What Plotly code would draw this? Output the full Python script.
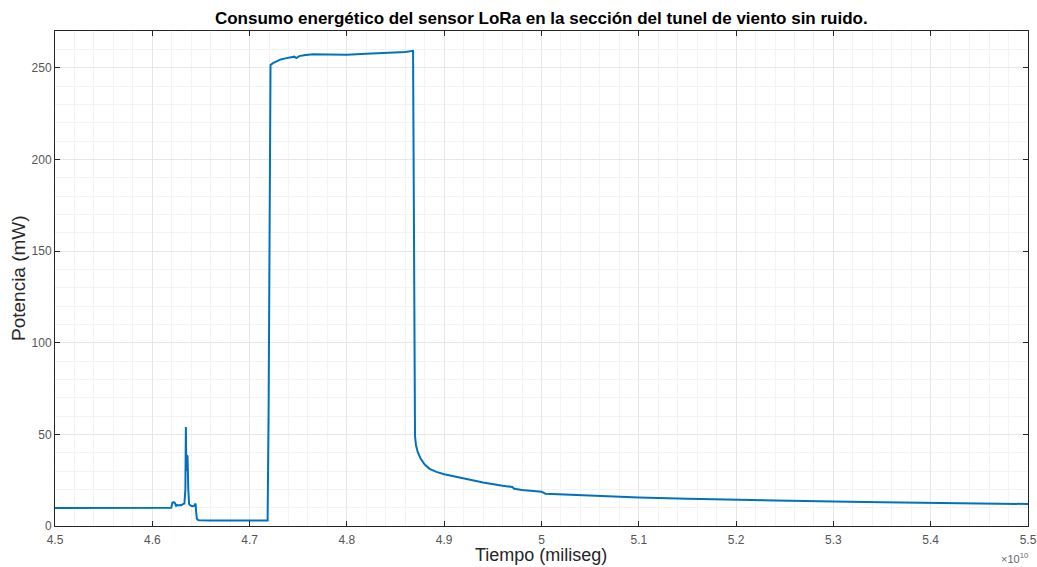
import plotly.graph_objects as go

# Time in units of 1e10 miliseg
t_e10 = [4.500, 4.550, 4.600, 4.6195, 4.6205, 4.6215, 4.6230, 4.6245, 4.6255, 4.6270, 4.6285, 4.6300,
         4.6315, 4.6330, 4.6340, 4.6345, 4.6350, 4.6355, 4.6362, 4.6370, 4.6378, 4.6390,
         4.6410, 4.6430, 4.6440, 4.6445, 4.6450, 4.6458, 4.6468, 4.6480, 4.6600, 4.6800,
         4.7000, 4.7150, 4.7185, 4.7195, 4.7205, 4.7215, 4.7240, 4.7280, 4.7320, 4.7380,
         4.7420, 4.7460, 4.7480, 4.7510, 4.7560, 4.7650, 4.7800, 4.8000, 4.8200, 4.8400,
         4.8600, 4.8680, 4.8690, 4.8700, 4.8710, 4.8730, 4.8760, 4.8800, 4.8850, 4.8920,
         4.9000, 4.9200, 4.9400, 4.9600, 4.9700, 4.9720, 4.9800, 5.0000, 5.0040, 5.0300,
         5.0600, 5.1000, 5.1500, 5.2000, 5.2500, 5.3000, 5.3500, 5.4000, 5.4500, 5.5000]
potencia_mw = [9.8, 9.8, 9.8, 9.9, 12.5, 13.0, 12.8, 11.0, 11.5, 11.2, 11.4, 11.3,
               12.0, 12.3, 20.0, 54.0, 30.0, 38.5, 38.0, 20.0, 12.0, 11.2,
               10.8, 11.0, 12.0, 12.3, 8.0, 4.0, 3.3, 3.1, 3.0, 2.9,
               2.9, 2.9, 3.0, 60.0, 200.0, 251.5, 252.5, 253.5, 254.5, 255.2,
               255.8, 256.0, 255.2, 256.3, 256.8, 257.3, 257.2, 257.0, 257.6, 258.0,
               258.6, 259.2, 150.0, 49.0, 44.0, 40.0, 36.5, 33.5, 31.2, 29.5,
               28.2, 25.8, 23.7, 22.0, 21.3, 20.3, 19.6, 18.7, 17.6, 17.0,
               16.3, 15.5, 14.8, 14.2, 13.7, 13.3, 12.9, 12.6, 12.3, 12.0]

x_ticks = [4.5, 4.6, 4.7, 4.8, 4.9, 5.0, 5.1, 5.2, 5.3, 5.4, 5.5]
x_tick_labels = ["4.5", "4.6", "4.7", "4.8", "4.9", "5", "5.1", "5.2", "5.3", "5.4", "5.5"]
y_ticks = [0, 50, 100, 150, 200, 250]

title_text = "Consumo energético del sensor LoRa en la sección del tunel de viento sin ruido."
x_title = "Tiempo (miliseg)"
y_title = "Potencia (mW)"

FONT = "Liberation Sans, Arial, sans-serif"

fig = go.Figure()
fig.add_trace(go.Scatter(x=t_e10, y=potencia_mw, mode="lines",
                         line=dict(color="#0072BD", width=2), showlegend=False))

axis_common = dict(
    showline=True, linecolor="#262626", linewidth=1, mirror="ticks",
    ticks="inside", ticklen=5, tickcolor="#262626", tickwidth=1,
    showgrid=True, gridcolor="#e6e6e6", gridwidth=1, zeroline=False,
    automargin=False,
    tickfont=dict(family=FONT, size=12, color="#555555"),
)

fig.update_layout(
    width=1037, height=567,
    margin=dict(l=55, r=9, t=31, b=41),
    paper_bgcolor="white", plot_bgcolor="white",
    title=dict(text="<b>" + title_text + "</b>", x=0.522, xanchor="center", y=0.968, yanchor="middle",
               font=dict(family=FONT, size=17, color="black")),
    xaxis=dict(range=[4.5, 5.5], tickvals=x_ticks, ticktext=x_tick_labels,
               ticklabelstandoff=3,
               minor=dict(dtick=0.02, showgrid=True, gridcolor="#f3f3f3", ticks=""),
               **axis_common),
    yaxis=dict(range=[0, 270], tickvals=y_ticks,
               minor=dict(dtick=10, showgrid=True, gridcolor="#f3f3f3", ticks=""),
               **axis_common),
    annotations=[
        dict(text=x_title, x=541, y=555, xref="paper", yref="paper", showarrow=False,
             xanchor="center", yanchor="middle",
             font=dict(family=FONT, size=18, color="#262626")),
        dict(text=y_title, x=18, y=278, xref="paper", yref="paper", showarrow=False, textangle=-90,
             xanchor="center", yanchor="middle",
             font=dict(family=FONT, size=19, color="#262626")),
        dict(text="×10<sup>10</sup>", x=1030, y=558, xref="paper", yref="paper", showarrow=False,
             xanchor="right", yanchor="middle",
             font=dict(family=FONT, size=11, color="#666666")),
    ],
)

# convert pixel positions of annotations into paper coordinates
pl, pr, pt, pb = 55, 1037 - 9, 31, 567 - 41
for a in fig.layout.annotations:
    a.x = (a.x - pl) / (pr - pl)
    a.y = (pb - a.y) / (pb - pt)

fig.write_html("out.html",
               config={"displayModeBar": False},
               post_script="document.body.style.margin='0';document.body.style.overflow='hidden';")
